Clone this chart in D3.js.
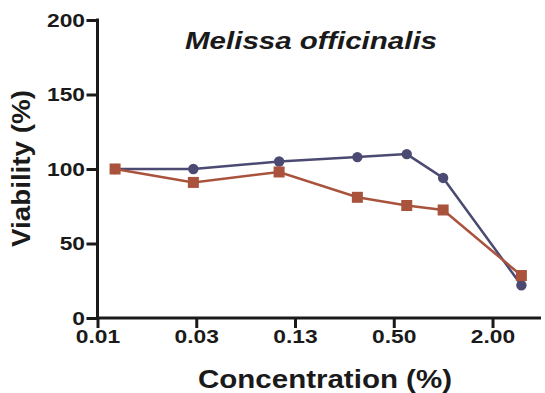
<!DOCTYPE html>
<html>
<head>
<meta charset="utf-8">
<script src="https://cdn.jsdelivr.net/npm/d3@7"></script>
<style>
  html, body { margin: 0; padding: 0; background: #fff; }
  svg { display: block; }
  text { font-family: "Liberation Sans", Arial, sans-serif; font-weight: bold; fill: #1a1a1a; }
</style>
</head>
<body>
<svg id="chart" width="545" height="393"></svg>
<script>
// ---- data ----
const concentrations = [0.01, 0.03, 0.1, 0.3, 0.6, 1, 3];
const seriesCircles = [100, 100, 105, 108, 110, 94, 22];
const seriesSquares = [100, 91, 98, 81, 75.5, 72.5, 28.5];
const xTickValues = [0.0078125, 0.03125, 0.125, 0.5, 2];
const xTickLabels = ["0.01", "0.03", "0.13", "0.50", "2.00"];
const yTickValues = [0, 50, 100, 150, 200];
const title = "Melissa officinalis";
const xTitle = "Concentration (%)";
const yTitle = "Viability (%)";

// ---- layout ----
const svg = d3.select("#chart");
const x0 = 97.5, x1 = 541, yBottom = 318, yTop = 20;
const x = d3.scaleLog().base(2).domain([0.0078125, 3.95]).range([x0, x1]);
const y = d3.scaleLinear().domain([0, 200]).range([yBottom, yTop]);
const sx = 1.2;
const axisColor = "#1a1a1a";

// x axis
const xAxis = d3.axisBottom(x).tickValues(xTickValues)
  .tickFormat((d, i) => xTickLabels[i]).tickSize(10).tickSizeOuter(0);
const gx = svg.append("g").attr("transform", `translate(0,${yBottom})`).call(xAxis);
gx.select(".domain").attr("stroke", axisColor).attr("stroke-width", 3).attr("d", `M${x0 - 1.5},0H${x1}`);
gx.selectAll(".tick line").attr("stroke", axisColor).attr("stroke-width", 3);
gx.selectAll(".tick text").attr("y", 25.5).attr("dy", 0)
  .style("font-size", "19px").attr("fill", axisColor)
  .attr("transform", `scale(${sx},1)`);

// y axis
const yAxis = d3.axisLeft(y).tickValues(yTickValues).tickSize(11).tickSizeOuter(0);
const gy = svg.append("g").attr("transform", `translate(${x0},0)`).call(yAxis);
gy.select(".domain").attr("stroke", axisColor).attr("stroke-width", 3).attr("d", `M0,${yTop - 1.5}V${yBottom + 1.5}`);
gy.selectAll(".tick line").attr("stroke", axisColor).attr("stroke-width", 3);
gy.selectAll(".tick text").attr("x", -12.5 / sx).attr("dy", "0.34em")
  .style("font-size", "19px").attr("fill", axisColor)
  .attr("transform", `scale(${sx},1)`);

// lines
const lineGen = vals => d3.line().x((d, i) => x(concentrations[i])).y(d => y(d))(vals);
const blue = "#4b4a72", red = "#a9533d";

svg.append("path").attr("d", lineGen(seriesCircles))
  .attr("fill", "none").attr("stroke", blue).attr("stroke-width", 2.5);
svg.selectAll("circle.pt").data(seriesCircles).join("circle").attr("class", "pt")
  .attr("cx", (d, i) => x(concentrations[i])).attr("cy", d => y(d)).attr("r", 5.2).attr("fill", blue);

svg.append("path").attr("d", lineGen(seriesSquares))
  .attr("fill", "none").attr("stroke", red).attr("stroke-width", 2.5);
const s = 11;
svg.selectAll("rect.pt").data(seriesSquares).join("rect").attr("class", "pt")
  .attr("x", (d, i) => x(concentrations[i]) - s / 2).attr("y", d => y(d) - s / 2)
  .attr("width", s).attr("height", s).attr("fill", red);

// titles
svg.append("text").attr("x", 185).attr("y", 49).style("font-size", "23px")
  .style("font-style", "italic").attr("textLength", 252).attr("lengthAdjust", "spacingAndGlyphs")
  .text(title);

svg.append("text").attr("x", 198).attr("y", 388).style("font-size", "26px")
  .attr("textLength", 254).attr("lengthAdjust", "spacingAndGlyphs").text(xTitle);

svg.append("text").attr("transform", "translate(30,168.5) rotate(-90)")
  .attr("text-anchor", "middle").style("font-size", "25px")
  .attr("textLength", 157).attr("lengthAdjust", "spacingAndGlyphs").text(yTitle);
</script>
</body>
</html>
